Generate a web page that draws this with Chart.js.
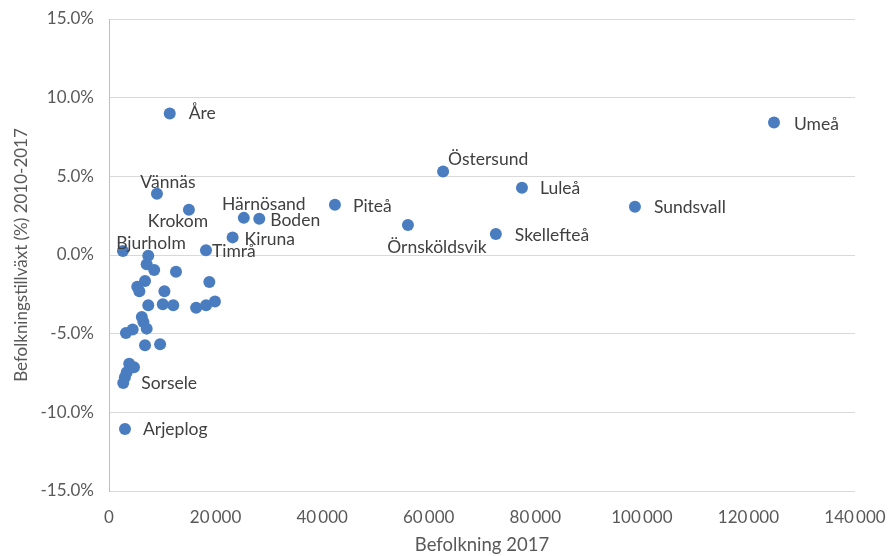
<!DOCTYPE html>
<html>
<head>
<meta charset="utf-8">
<script src="https://cdn.jsdelivr.net/npm/chart.js@4"></script>
<style>
    html, body { margin: 0; padding: 0; background: #fff; }
    #wrap { width: 888px; height: 556px; }
</style>
</head>
<body>
<div id="wrap"><canvas id="chart" width="888" height="556"></canvas></div>
<script>
// Municipality names ('' = no data label)
const municipalities = [
    'Umeå', 'Östersund', 'Luleå', 'Sundsvall', 'Piteå', 'Örnsköldsvik', 'Skellefteå',
    'Härnösand', 'Boden', 'Kiruna', 'Timrå', 'Krokom', 'Vännäs', 'Åre', 'Bjurholm',
    'Sorsele', 'Arjeplog',
    '', '', '', '', '', '', '', '', '', '', '', '', '', '', '', '', '', '', '', '', '', '', '', '', '', ''
];

// Befolkning 2017
const population = [
    124800, 62700, 77500, 98700, 42400, 56100, 72600,
    25300, 28200, 23200, 18200, 15000, 9000, 11400, 2620,
    2670, 3000,
    7370, 7070, 8480, 12570, 6760, 5300, 5700, 10400, 18830, 7370,
    10090, 12060, 16350, 18220, 19880, 6160, 6460, 7070, 3180, 4440,
    6760, 9590, 3790, 4690, 3330, 2980
];

// Befolkningstillväxt (%) 2010-2017
const growth = [
    8.42, 5.30, 4.28, 3.06, 3.19, 1.91, 1.34,
    2.36, 2.30, 1.12, 0.30, 2.87, 3.89, 9.00, 0.26,
    -8.13, -11.06,
    -0.05, -0.59, -0.96, -1.07, -1.66, -2.02, -2.30, -2.30, -1.72, -3.19,
    -3.13, -3.19, -3.36, -3.19, -2.95, -3.94, -4.26, -4.68, -4.96, -4.74,
    -5.74, -5.68, -6.91, -7.13, -7.45, -7.77
];

const yTicks = [-15, -10, -5, 0, 5, 10, 15];
const xTicks = [0, 20000, 40000, 60000, 80000, 100000, 120000, 140000];

// Label placement relative to the marker: [dx, dy, align] (style only)
const labelOffsets = {
    'Umeå': [20, 1.5, 'left'], 'Östersund': [5, -12, 'left'], 'Luleå': [18, 0.5, 'left'],
    'Sundsvall': [19, 0.5, 'left'], 'Piteå': [18, 1.5, 'left'],
    'Örnsköldsvik': [29, 22, 'center'], 'Skellefteå': [19, 1.5, 'left'],
    'Härnösand': [20, -14, 'center'], 'Boden': [11, 1.5, 'left'], 'Kiruna': [12, 1.5, 'left'],
    'Timrå': [6, 1.5, 'left'], 'Krokom': [-11, 12, 'center'], 'Vännäs': [11, -11, 'center'],
    'Åre': [19, 0, 'left'], 'Bjurholm': [28, -8, 'center'], 'Sorsele': [18, 0.5, 'left'],
    'Arjeplog': [18, 0, 'left']
};

const FONT = 'Lato, "Open Sans", sans-serif';

const points = population.map((p, i) => ({ x: p, y: growth[i] }));

// Draw municipality names next to the markers
const dataLabels = {
    id: 'dataLabels',
    afterDatasetsDraw(chart) {
        const ctx = chart.ctx;
        const meta = chart.getDatasetMeta(0);
        ctx.save();
        ctx.font = '17.5px ' + FONT;
        ctx.fillStyle = '#404040';
        ctx.textBaseline = 'middle';
        meta.data.forEach((el, i) => {
            const name = municipalities[i];
            if (!name) return;
            const off = labelOffsets[name] || [12, 0, 'left'];
            ctx.textAlign = off[2];
            ctx.fillText(name, el.x + off[0], el.y + off[1]);
        });
        ctx.restore();
    }
};

const ctx = document.getElementById('chart').getContext('2d');
new Chart(ctx, {
    type: 'scatter',
    data: {
        datasets: [{
            data: points,
            backgroundColor: '#4a7dc0',
            borderColor: '#4a7dc0',
            borderWidth: 0,
            pointRadius: 6,
            pointHoverRadius: 6
        }]
    },
    options: {
        responsive: false,
        animation: false,
        layout: { padding: { top: 19, right: 33, left: 0, bottom: 0 } },
        plugins: {
            legend: { display: false },
            tooltip: { enabled: false }
        },
        scales: {
            x: {
                type: 'linear',
                min: 0,
                max: 140000,
                afterBuildTicks: (axis) => { axis.ticks = xTicks.map(v => ({ value: v })); },
                afterFit: (axis) => {
                    axis.height = 65;
                    axis.paddingLeft = 0;
                    axis.paddingRight = 0;
                },
                grid: { display: false, drawTicks: false },
                border: { display: false },
                ticks: {
                    padding: 16,
                    color: '#595959',
                    font: { family: FONT, size: 17 },
                    callback: (v) => v === 0 ? '0' : String(v).replace(/\B(?=(\d{3})+(?!\d))/g, '\u2009')
                },
                title: {
                    display: true,
                    text: 'Befolkning 2017',
                    color: '#595959',
                    font: { family: FONT, size: 18.5 },
                    padding: { top: 0, bottom: 0 }
                }
            },
            y: {
                type: 'linear',
                min: -15,
                max: 15,
                afterBuildTicks: (axis) => { axis.ticks = yTicks.map(v => ({ value: v })); },
                afterFit: (axis) => {
                    axis.width = 109;
                    axis.paddingTop = 0;
                    axis.paddingBottom = 0;
                },
                grid: { color: '#d9d9d9', lineWidth: 1, drawTicks: false },
                border: { display: true, color: '#bfbfbf', width: 1 },
                ticks: {
                    padding: 15,
                    color: '#595959',
                    font: { family: FONT, size: 17 },
                    callback: (v) => v.toFixed(1) + '%'
                },
                title: {
                    display: true,
                    text: 'Befolkningstillväxt (%) 2010-2017',
                    color: '#595959',
                    font: { family: FONT, size: 17 },
                    padding: { top: 11, bottom: 0 }
                }
            }
        }
    },
    plugins: [dataLabels]
});
</script>
</body>
</html>
